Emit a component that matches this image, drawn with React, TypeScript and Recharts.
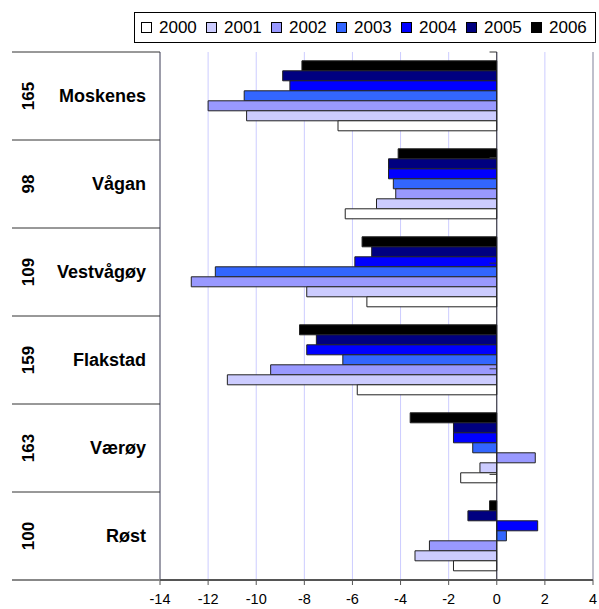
import { Bar, BarChart, CartesianGrid, ReferenceLine, XAxis, YAxis } from "recharts";

const municipalities = ["Moskenes", "Vågan", "Vestvågøy", "Flakstad", "Værøy", "Røst"];
const codes = [165, 98, 109, 159, 163, 100];
const years = ["2000", "2001", "2002", "2003", "2004", "2005", "2006"];

const v2000 = [-6.6, -6.3, -5.4, -5.8, -1.5, -1.8];
const v2001 = [-10.4, -5.0, -7.9, -11.2, -0.7, -3.4];
const v2002 = [-12.0, -4.2, -12.7, -9.4, 1.6, -2.8];
const v2003 = [-10.5, -4.3, -11.7, -6.4, -1.0, 0.4];
const v2004 = [-8.6, -4.5, -5.9, -7.9, -1.8, 1.7];
const v2005 = [-8.9, -4.5, -5.2, -7.5, -1.8, -1.2];
const v2006 = [-8.1, -4.1, -5.6, -8.2, -3.6, -0.3];

const xTicks = [-14, -12, -10, -8, -6, -4, -2, 0, 2, 4];

const colors = ["#ffffff", "#ccccff", "#9999ff", "#3366ff", "#0000ff", "#000080", "#000000"];
const series = [v2000, v2001, v2002, v2003, v2004, v2005, v2006];

const data = municipalities.map((name, i) => {
  const row: Record<string, string | number> = { name };
  years.forEach((y, k) => {
    row[y] = series[k][i];
  });
  return row;
});

const FONT = "Arial, 'Liberation Sans', sans-serif";
const LABEL_LEFT = 12;
const PLOT_LEFT = 160;

function CategoryTick(props: any) {
  const { y, payload } = props;
  const i = payload?.index ?? props.index ?? 0;
  const half = payload?.offset ?? 44;
  return (
    <g>
      <line x1={LABEL_LEFT} x2={PLOT_LEFT} y1={y - half} y2={y - half} stroke="#333" />
      <text
        transform={`translate(34, ${y}) rotate(-90)`}
        textAnchor="middle"
        fontWeight="bold"
        fontSize={17}
        fontFamily={FONT}
        fill="#000"
      >
        {codes[i]}
      </text>
      <text
        x={146}
        y={y}
        dy="0.35em"
        textAnchor="end"
        fontWeight="bold"
        fontSize={18}
        fontFamily={FONT}
        fill="#000"
      >
        {payload.value}
      </text>
      {i === municipalities.length - 1 && (
        <line x1={LABEL_LEFT} x2={PLOT_LEFT} y1={y + half} y2={y + half} stroke="#888" strokeWidth={2} />
      )}
    </g>
  );
}

function LegendBox() {
  return (
    <div
      style={{
        position: "absolute",
        left: 134,
        top: 12,
        width: 454,
        height: 29,
        border: "1px solid #000",
        display: "flex",
        alignItems: "center",
        paddingLeft: 6,
        boxSizing: "content-box",
        fontFamily: FONT,
        fontSize: 17,
        background: "#fff",
      }}
    >
      {years.map((y, k) => (
        <div key={y} style={{ width: 65, display: "flex", alignItems: "center", flexShrink: 0 }}>
          <span
            style={{
              width: 9,
              height: 9,
              border: "1px solid #000",
              background: colors[k],
              marginRight: 7,
              display: "inline-block",
            }}
          />
          <span>{y}</span>
        </div>
      ))}
    </div>
  );
}

export default function App() {
  const boundaries = municipalities.map((_, i) => i).concat(municipalities.length);
  return (
    <div style={{ position: "absolute", left: 0, top: 0, width: 599, height: 609, background: "#fff" }}>
      <BarChart
        width={599}
        height={609}
        data={data}
        layout="vertical"
        margin={{ top: 52, right: 6, bottom: 0, left: 0 }}
        barCategoryGap="10%"
        barGap={0}
      >
        <CartesianGrid horizontal={false} stroke="#ccccff" />
        <XAxis
          type="number"
          domain={[-14, 4]}
          ticks={xTicks}
          interval={0}
          height={29}
          axisLine={{ stroke: "#555", strokeWidth: 2 }}
          tickLine={{ stroke: "#555" }}
          tickSize={5}
          tickMargin={9}
          tick={{ fontSize: 14.5, fontFamily: FONT, fill: "#000" }}
        />
        <YAxis
          type="category"
          dataKey="name"
          width={PLOT_LEFT}
          axisLine={false}
          tickLine={false}
          interval={0}
          tick={<CategoryTick />}
        />
        <YAxis yAxisId="n" type="number" domain={[0, municipalities.length]} hide />
        <ReferenceLine x={-14} stroke="#555" ifOverflow="visible" />
        <ReferenceLine x={4} stroke="#999" ifOverflow="visible" />
        <ReferenceLine yAxisId="n" y={municipalities.length} stroke="#777" ifOverflow="visible" />
        {boundaries.map((b) => (
          <ReferenceLine
            key={`tk-${b}`}
            yAxisId="n"
            segment={[
              { x: -0.3, y: b },
              { x: 0, y: b },
            ]}
            stroke="#333"
            ifOverflow="visible"
          />
        ))}
        {years
          .slice()
          .reverse()
          .map((y) => {
            const k = years.indexOf(y);
            return (
              <Bar
                key={y}
                dataKey={y}
                fill={colors[k]}
                stroke="#222"
                strokeWidth={1}
                isAnimationActive={false}
              />
            );
          })}
        <ReferenceLine x={0} stroke="#222" />
      </BarChart>
      <LegendBox />
    </div>
  );
}
